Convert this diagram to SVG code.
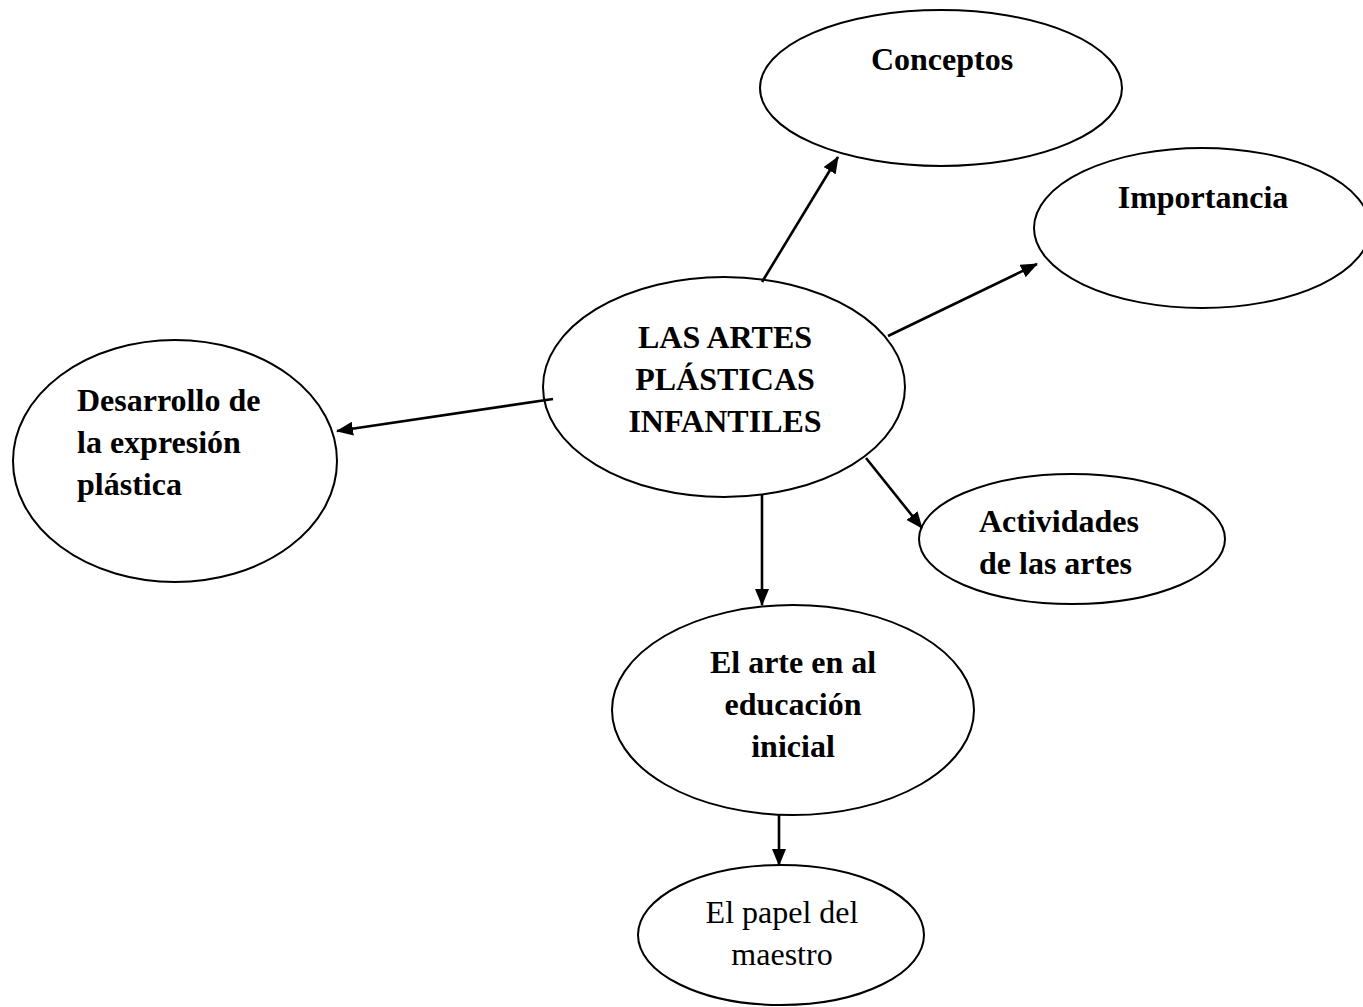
<svg xmlns="http://www.w3.org/2000/svg" width="1363" height="1007" viewBox="0 0 1363 1007">
<style>
.n{fill:#fff;stroke:#000;stroke-width:2}
.t{font-family:"Liberation Serif","Times New Roman",serif;font-size:32px;font-weight:bold;fill:#000}
.r{font-weight:normal}
.c{text-anchor:middle}
.e{stroke:#000;stroke-width:2.6;fill:none;marker-end:url(#ah)}
</style>
<defs>
<marker id="ah" markerUnits="userSpaceOnUse" markerWidth="17" markerHeight="14" refX="16" refY="7" orient="auto">
<path d="M0,0 L17,7 L0,14 z" fill="#000"/>
</marker>
</defs>
<rect width="1363" height="1007" fill="#fff"/>
<g id="n-conceptos">
<ellipse class="n" cx="941" cy="88" rx="181" ry="78"/>
<text class="t c" x="942" y="70">Conceptos</text>
</g>
<g id="n-importancia">
<ellipse class="n" cx="1202" cy="228" rx="168" ry="80"/>
<text class="t c" x="1203" y="208">Importancia</text>
</g>
<g id="n-central">
<ellipse class="n" cx="724" cy="387" rx="181" ry="110"/>
<text class="t c" x="725" y="348">LAS ARTES</text>
<text class="t c" x="725" y="390">PLÁSTICAS</text>
<text class="t c" x="725" y="432">INFANTILES</text>
</g>
<g id="n-desarrollo">
<ellipse class="n" cx="175" cy="461" rx="162" ry="121"/>
<text class="t" x="77" y="411">Desarrollo de</text>
<text class="t" x="77" y="453">la expresión</text>
<text class="t" x="77" y="495">plástica</text>
</g>
<g id="n-actividades">
<ellipse class="n" cx="1072" cy="539" rx="153" ry="65"/>
<text class="t" x="979" y="532">Actividades</text>
<text class="t" x="979" y="574">de las artes</text>
</g>
<g id="n-arte">
<ellipse class="n" cx="793" cy="710" rx="181" ry="105"/>
<text class="t c" x="793" y="673">El arte en al</text>
<text class="t c" x="793" y="715">educación</text>
<text class="t c" x="793" y="757">inicial</text>
</g>
<g id="n-papel">
<ellipse class="n" cx="781" cy="935" rx="143" ry="70"/>
<text class="t r c" x="782" y="923">El papel del</text>
<text class="t r c" x="782" y="965">maestro</text>
</g>
<g id="connectors">
<line class="e" x1="762" y1="282" x2="838" y2="157"/>
<line class="e" x1="888" y1="336" x2="1037" y2="264"/>
<line class="e" x1="553" y1="399" x2="337" y2="431"/>
<line class="e" x1="866" y1="458" x2="922" y2="528"/>
<line class="e" x1="762" y1="495" x2="762" y2="605"/>
<line class="e" x1="779" y1="815" x2="779" y2="865"/>
</g>
</svg>
